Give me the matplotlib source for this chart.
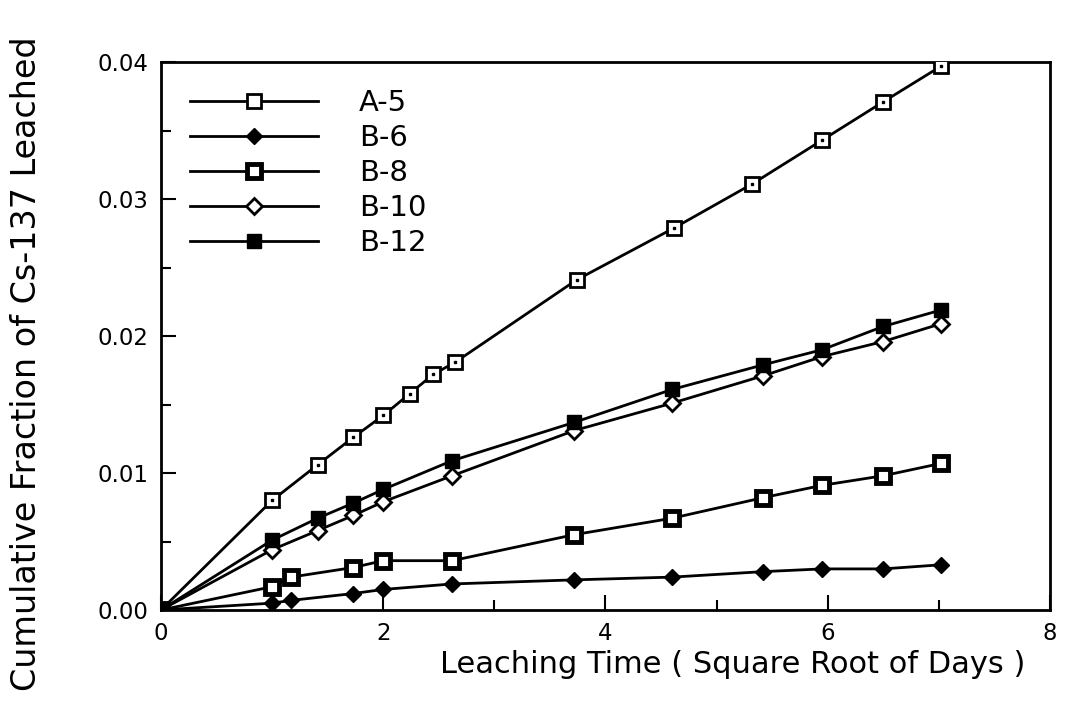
import matplotlib
matplotlib.use("Agg")
import matplotlib.pyplot as plt
from matplotlib.ticker import MultipleLocator, FormatStrFormatter

# leaching time (sqrt of days) and cumulative fraction leached
a5_x = [0, 1, 1.41, 1.73, 2, 2.24, 2.45, 2.65, 3.74, 4.62, 5.32, 5.95, 6.5, 7.02]
a5_y = [0, 0.0080, 0.0106, 0.0126, 0.0142, 0.0158, 0.0172, 0.0181, 0.0241, 0.0279, 0.0311, 0.0343, 0.0371, 0.0397]

b_low_x = [0, 1, 1.17, 1.73, 2, 2.62, 3.72, 4.6, 5.42, 5.95, 6.5, 7.02]
b6_y = [0, 0.0005, 0.0007, 0.0012, 0.0015, 0.0019, 0.0022, 0.0024, 0.0028, 0.0030, 0.0030, 0.0033]
b8_y = [0, 0.0017, 0.0024, 0.0031, 0.0036, 0.0036, 0.0055, 0.0067, 0.0082, 0.0091, 0.0098, 0.0107]

b_high_x = [0, 1, 1.41, 1.73, 2, 2.62, 3.72, 4.6, 5.42, 5.95, 6.5, 7.02]
b10_y = [0, 0.0044, 0.0058, 0.0069, 0.0079, 0.0098, 0.0131, 0.0151, 0.0171, 0.0185, 0.0196, 0.0209]
b12_y = [0, 0.0051, 0.0067, 0.0078, 0.0088, 0.0109, 0.0137, 0.0161, 0.0179, 0.0190, 0.0207, 0.0219]

plt.rcParams['font.family'] = ['DejaVu Sans']

fig = plt.figure(figsize=(10.67, 7.06), dpi=100)
ax = fig.add_axes([0.1509, 0.136, 0.833, 0.776])

lw = 2.0
ms = 10

# A-5: open square with a dot in the middle
ax.plot(a5_x, a5_y, color='black', lw=lw, marker='s', ms=ms, mfc='white', mec='black', mew=2, label='A-5', zorder=3)
ax.plot(a5_x[1:], a5_y[1:], ls='none', marker='s', ms=2, color='black', zorder=4)
# B-6: filled diamond
ax.plot(b_low_x, b6_y, color='black', lw=lw, marker='D', ms=8.5, mfc='black', mec='black', label='B-6', zorder=3)
# B-8: heavy square with small hole
ax.plot(b_low_x, b8_y, color='black', lw=lw, marker='s', ms=ms, mfc='white', mec='black', mew=3.5, label='B-8', zorder=3)
# B-10: open diamond
ax.plot(b_high_x, b10_y, color='black', lw=lw, marker='D', ms=8, mfc='white', mec='black', mew=2, label='B-10', zorder=3)
# B-12: filled square
ax.plot(b_high_x, b12_y, color='black', lw=lw, marker='s', ms=ms, mfc='black', mec='black', label='B-12', zorder=3)

ax.set_xlim(0, 8)
ax.set_ylim(0, 0.04)
ax.xaxis.set_major_locator(MultipleLocator(2))
ax.xaxis.set_minor_locator(MultipleLocator(1))
ax.yaxis.set_major_locator(MultipleLocator(0.01))
ax.yaxis.set_minor_locator(MultipleLocator(0.005))
ax.yaxis.set_major_formatter(FormatStrFormatter('%.2f'))
ax.tick_params(which='both', direction='in', top=False, right=False, labelsize=16.5, width=1.5, pad=9)
ax.tick_params(which='major', length=11)
ax.tick_params(which='minor', length=7)
for s in ax.spines.values():
    s.set_linewidth(2)

ax.text(0.972, -0.1, 'Leaching Time ( Square Root of Days )', transform=ax.transAxes,
        ha='right', va='center', fontsize=22)
fig.text(0.025, 0.485, 'Cumulative Fraction of Cs-137 Leached', rotation=90,
         ha='center', va='center', fontsize=24)

leg = ax.legend(loc='upper left', bbox_to_anchor=(0.016, 0.977), frameon=False, fontsize=21,
                handlelength=4.4, handletextpad=1.4, labelspacing=0.24, numpoints=1, borderpad=0)

fig.savefig('out.png', dpi=100)
